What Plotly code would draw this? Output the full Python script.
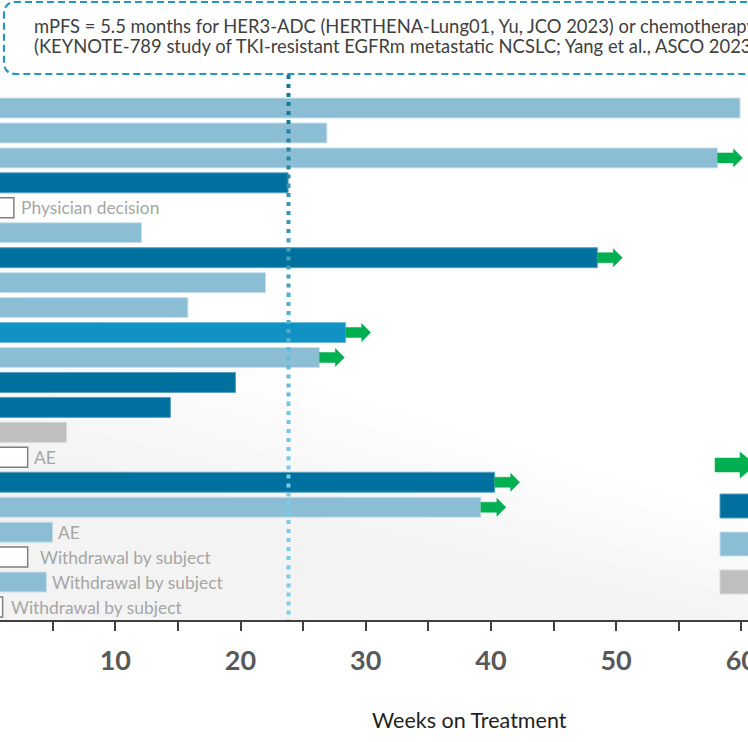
import plotly.graph_objects as go

# ---- data -------------------------------------------------------------
# one row per subject, listed top to bottom
weeks_on_treatment = [59.9, 26.9, 58.1, 23.8, 1.9, 12.1, 48.5, 22.0, 15.8, 28.4,
                      26.3, 19.6, 14.4, 6.1, 3.0, 40.3, 39.2, 5.0, 3.0, 4.5, 1.0]
cohort = ["light", "light", "light", "dark", "none", "light", "dark", "light", "light", "medium",
          "light", "dark", "dark", "gray", "none", "dark", "light", "light", "none", "light", "none"]
ongoing = [False, False, True, False, False, False, True, False, False, True,
           True, False, False, False, False, True, True, False, False, False, False]
discontinuation = ["", "", "", "", "Physician decision", "", "", "", "", "",
                   "", "", "", "", "AE", "", "", "AE", "Withdrawal by subject",
                   "Withdrawal by subject", "Withdrawal by subject"]
tick_values = [5, 10, 15, 20, 25, 30, 35, 40, 45, 50, 55, 60]
tick_labels = ["", "10", "", "20", "", "30", "", "40", "", "50", "", "60"]
MPFS_MONTHS = 5.5
note_line1 = "mPFS = 5.5 months for HER3-ADC (HERTHENA-Lung01, Yu, JCO 2023) or chemotherapy"
note_line2 = "(KEYNOTE-789 study of TKI-resistant EGFRm metastatic NCSLC; Yang et al., ASCO 2023)"

# ---- style --------------------------------------------------------------
W, H = 748, 742
PLOT_H = 620                      # plot area height in px (axis line at bottom)
ROW_PX = 24.95                    # row pitch in px
ROW1_PX = 108                     # centre of first row in px
PX_PER_WEEK = 12.52
ZERO_PX = -9.9

FILL = {"light": "#8bbdd4", "dark": "#00709f", "medium": "#1192c4",
        "gray": "#bfbfbf", "none": "#ffffff"}
EDGE = {"light": "#c9e1ec", "dark": "#5a9fbf", "medium": "#6bb8d8",
        "gray": "#d9d9d9", "none": "#7f7f7f"}
GREEN = "#00b050"
FONT = "Lato"

rows = list(range(1, len(weeks_on_treatment) + 1))
y_top = 1 - ROW1_PX / ROW_PX
y_bottom = 1 + (PLOT_H - ROW1_PX) / ROW_PX
x_left = -ZERO_PX / PX_PER_WEEK
x_right = (W - ZERO_PX) / PX_PER_WEEK


def py_to_row(py):
    return 1 + (py - ROW1_PX) / ROW_PX


def px(x):
    return x / W


def pyp(y):
    return 1 - y / PLOT_H


fig = go.Figure()

# faint grey wash in the lower part of the panel, built from soft layers
for k in range(6):
    top_l = 290 + k * 30
    top_r = min(PLOT_H, 520 + k * 20)
    fig.add_shape(type="path", xref="paper", yref="paper", layer="below",
                  path=(f"M 0,{pyp(top_l)} L 1,{pyp(top_r)} L 1,{pyp(PLOT_H)} "
                        f"L 0,{pyp(PLOT_H)} Z"),
                  fillcolor="rgba(0,0,0,0.007)", line=dict(width=0))

# treatment-duration bars, one trace per cohort colour
for key in ["light", "dark", "medium", "gray", "none"]:
    ys = [r for r, c in zip(rows, cohort) if c == key]
    xs = [w for w, c in zip(weeks_on_treatment, cohort) if c == key]
    fig.add_trace(go.Bar(
        y=ys, x=xs, base=0, orientation="h", width=0.8,
        marker=dict(color=FILL[key],
                    line=dict(color=EDGE[key], width=1.5 if key == "none" else 1)),
        showlegend=False, hoverinfo="x+y"))

# green "still on treatment" arrows starting at the end of each ongoing bar
ARROW_LEN = 25 / PX_PER_WEEK
HEAD_LEN = 9 / PX_PER_WEEK
SHAFT_H = 5 / ROW_PX
HEAD_H = 9 / ROW_PX
for r, w, on in zip(rows, weeks_on_treatment, ongoing):
    if not on:
        continue
    xa, xb, xc = w, w + ARROW_LEN - HEAD_LEN, w + ARROW_LEN
    fig.add_trace(go.Scatter(
        x=[xa, xb, xb, xc, xb, xb, xa, xa],
        y=[r - SHAFT_H, r - SHAFT_H, r - HEAD_H, r, r + HEAD_H, r + SHAFT_H, r + SHAFT_H, r - SHAFT_H],
        mode="lines", fill="toself", fillcolor=GREEN, line=dict(color=GREEN, width=0.5),
        showlegend=False, hoverinfo="skip"))

# discontinuation reasons next to the bars
label_shift = {5: 5, 15: 4, 18: 3, 19: 10, 20: 4, 21: 6}
for r, w, txt in zip(rows, weeks_on_treatment, discontinuation):
    if not txt:
        continue
    fig.add_annotation(x=w, y=r, xref="x", yref="y", text=txt, showarrow=False,
                       xanchor="left", yanchor="middle", xshift=label_shift.get(r, 5),
                       font=dict(family=FONT, size=17.4, color="#a6a6a6"))

# dotted mPFS reference line, fading from teal to light blue downwards
mpfs_weeks = MPFS_MONTHS * 52 / 12
top_px, n_seg, seg_px = 75, 10, 54.5
c0, c1 = (0x1b, 0x78, 0x94), (0x76, 0xce, 0xea)
for i in range(n_seg):
    t = i / (n_seg - 1)
    col = "rgb(%d,%d,%d)" % tuple(round(a + (b - a) * min(1, t * 1.4)) for a, b in zip(c0, c1))
    y0 = py_to_row(top_px + i * seg_px)
    y1 = py_to_row(min(PLOT_H, top_px + (i + 1) * seg_px))
    fig.add_shape(type="line", xref="x", yref="y", x0=mpfs_weeks, x1=mpfs_weeks, y0=y0, y1=y1,
                  line=dict(color=col, width=4, dash="4px,5px"), layer="above")

# dashed rounded call-out box holding the mPFS note
bx0, bx1, by0, by1, rad = 4, 780, 2, 74, 12
box_path = (f"M {px(bx1)},{pyp(by0)} L {px(bx0 + rad)},{pyp(by0)} "
            f"Q {px(bx0)},{pyp(by0)} {px(bx0)},{pyp(by0 + rad)} "
            f"L {px(bx0)},{pyp(by1 - rad)} Q {px(bx0)},{pyp(by1)} {px(bx0 + rad)},{pyp(by1)} "
            f"L {px(bx1)},{pyp(by1)}")
fig.add_shape(type="path", xref="paper", yref="paper", path=box_path,
              line=dict(color="#2596be", width=2.2, dash="7px,4px"))
fig.add_annotation(x=px(32), y=pyp(26), xref="paper", yref="paper", text=note_line1,
                   showarrow=False, xanchor="left", yanchor="middle",
                   font=dict(family=FONT, size=18.4, color="#404040"))
fig.add_annotation(x=px(32), y=pyp(46), xref="paper", yref="paper", text=note_line2,
                   showarrow=False, xanchor="left", yanchor="middle",
                   font=dict(family=FONT, size=18.4, color="#404040"))

# legend keys (their captions lie beyond the right edge)
fig.add_shape(type="path", xref="paper", yref="paper",
              path=(f"M {px(715)},{pyp(458)} L {px(740)},{pyp(458)} L {px(740)},{pyp(452)} "
                    f"L {px(756)},{pyp(465)} L {px(740)},{pyp(478)} L {px(740)},{pyp(472)} "
                    f"L {px(715)},{pyp(472)} Z"),
              fillcolor=GREEN, line=dict(color=GREEN, width=0.5))
for key, top in [("dark", 494), ("light", 532), ("gray", 570)]:
    fig.add_shape(type="rect", xref="paper", yref="paper",
                  x0=px(720), x1=px(770), y0=pyp(top), y1=pyp(top + 24),
                  fillcolor=FILL[key], line=dict(color=EDGE[key], width=1))

# x-axis title
fig.add_annotation(x=px(470), y=pyp(720), xref="paper", yref="paper", text="Weeks on Treatment",
                   showarrow=False, xanchor="center", yanchor="middle",
                   font=dict(family=FONT, size=21.5, color="#1f1f1f"))

fig.update_layout(
    width=W, height=H, margin=dict(l=0, r=0, t=0, b=H - PLOT_H, autoexpand=False),
    paper_bgcolor="white", plot_bgcolor="white", barmode="overlay",
    showlegend=False,
    xaxis=dict(range=[x_left, x_right], tickvals=tick_values, ticktext=tick_labels,
               ticks="outside", ticklen=9, tickwidth=2, tickcolor="#404040",
               showline=True, linecolor="#404040", linewidth=2, automargin=False,
               showgrid=False, zeroline=False, ticklabeloverflow="allow",
               ticklabelstandoff=7,
               tickfont=dict(family=FONT, size=27, color="#595959", weight="bold")),
    yaxis=dict(range=[y_bottom, y_top], visible=False, showgrid=False, zeroline=False,
               automargin=False),
)

fig.write_html("out.html")
